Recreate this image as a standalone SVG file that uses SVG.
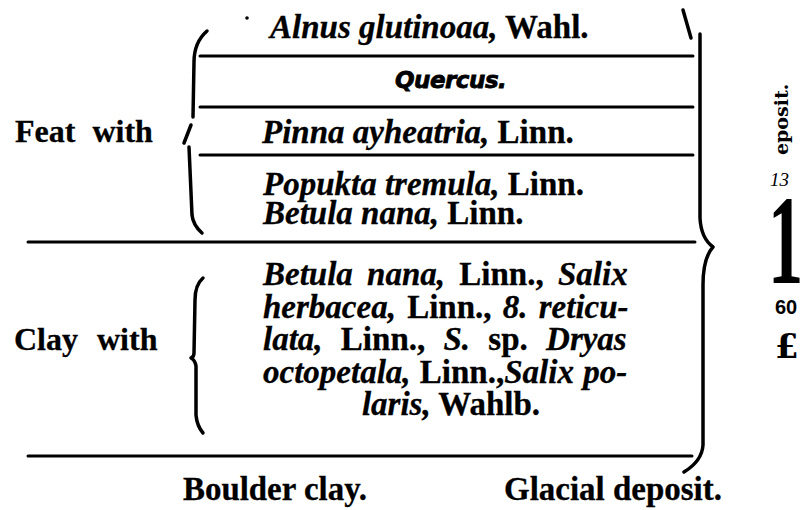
<svg xmlns="http://www.w3.org/2000/svg" width="805" height="510" viewBox="0 0 805 510">
<style>
.t{font-family:"Liberation Serif","Times New Roman",serif;font-weight:bold;font-size:33px;fill:#000;stroke:#000;stroke-width:0.3}
.i{font-style:italic}
.lab{font-family:"Liberation Serif","Times New Roman",serif;font-weight:bold;font-size:32px;fill:#000;stroke:#000;stroke-width:0.3}
.ln{stroke:#000;stroke-width:3;fill:none;stroke-linecap:round}
.br{stroke:#000;stroke-width:3.5;fill:none;stroke-linecap:round;stroke-linejoin:round}
</style>
<rect width="805" height="510" fill="#fff"/>
<g id="connectors">
<line class="ln" x1="200" y1="56" x2="693" y2="56"/>
<line class="ln" x1="200" y1="107" x2="693" y2="107"/>
<line class="ln" x1="200" y1="155" x2="693" y2="155"/>
<line class="ln" x1="28" y1="242" x2="695" y2="242"/>
<line class="ln" x1="28" y1="456" x2="692" y2="456" stroke-width="4.5"/>
<path class="br" d="M207,31 C199,38 194,48 194,62 L193,117"/>
<path class="br" d="M191,125 L184,143" stroke-width="2.5"/>
<path class="br" d="M189,147 L192,215 Q193,225 202,233"/>
<path class="br" d="M203,278 Q195,285 195,300 L194,353 Q194,357 191,358 Q195,360 196,366 L196,415 Q197,426 203,433"/>
<path class="br" d="M700,34 L700,218 Q701,238 713,247 Q703,258 703,285 L703,445 Q702,461 684,472" stroke-width="4"/>
<path class="br" d="M683,10 L691,38" stroke-width="2"/>
<circle cx="247" cy="18" r="1.8" fill="#000"/>
</g>
<g id="feat-label"><text class="lab" x="15" y="142" word-spacing="9">Feat with</text></g>
<g id="clay-label"><text class="lab" x="14" y="350" word-spacing="11">Clay with</text></g>
<g id="alnus"><text class="t" x="270" y="38"><tspan class="i">Alnus glutinoaa,</tspan> Wahl.</text></g>
<g id="quercus"><text x="395" y="88" font-family="DejaVu Sans, sans-serif" font-weight="bold" font-style="italic" font-size="23" letter-spacing="-0.5" stroke="#000" stroke-width="0.8">Quercus.</text></g>
<g id="pinna"><text class="t" x="262" y="143"><tspan class="i">Pinna ayheatria,</tspan> Linn.</text></g>
<g id="populus"><text class="t" x="263" y="195"><tspan class="i">Popukta tremula,</tspan> Linn.</text>
<text class="t" x="263" y="224"><tspan class="i">Betula nana,</tspan> Linn.</text></g>
<g id="clay-flora">
<text class="t" x="263" y="285" word-spacing="6"><tspan class="i">Betula nana,</tspan> Linn., <tspan class="i">Salix</tspan></text>
<text class="t" x="263" y="318" word-spacing="3"><tspan class="i">herbacea,</tspan> Linn., <tspan class="i">8. reticu-</tspan></text>
<text class="t" x="263" y="350" word-spacing="10"><tspan class="i">lata,</tspan> Linn., <tspan class="i">S.</tspan> sp. <tspan class="i">Dryas</tspan></text>
<text class="t" x="263" y="383" word-spacing="1"><tspan class="i">octopetala,</tspan> Linn.,<tspan class="i">Salix po-</tspan></text>
<text class="t" x="451" y="415" text-anchor="middle"><tspan class="i">laris,</tspan> Wahlb.</text>
</g>
<g id="boulder"><text class="t" x="183" y="500" font-size="35" textLength="184" lengthAdjust="spacingAndGlyphs">Boulder clay.</text></g>
<g id="glacial"><text class="t" x="504" y="500" font-size="35" textLength="218" lengthAdjust="spacingAndGlyphs">Glacial deposit.</text></g>
<g id="margin">
<text transform="translate(788,155) rotate(-90)" font-family="DejaVu Serif, serif" font-weight="bold" font-size="19">eposit.</text>
<text x="770" y="186" font-family="Liberation Serif, serif" font-style="italic" font-size="19">13</text>
<text transform="translate(768,283) scale(0.55,1)" font-family="Liberation Serif, serif" font-weight="bold" font-size="128">1</text>
<text x="775" y="314" font-family="Liberation Sans, Arial, sans-serif" font-weight="bold" font-size="20">60</text>
<text x="775" y="358" font-family="DejaVu Serif, serif" font-weight="bold" font-size="34">£</text>
</g>
</svg>
